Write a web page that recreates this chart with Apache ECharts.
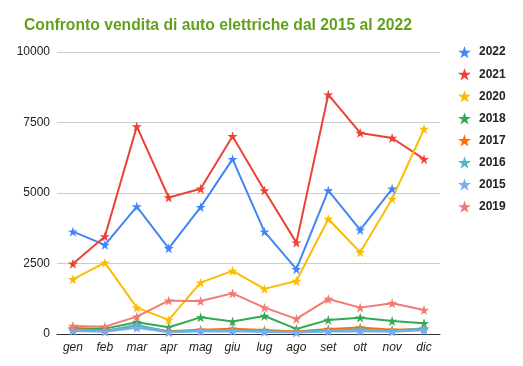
<!DOCTYPE html>
<html><head><meta charset="utf-8">
<script src="https://cdn.jsdelivr.net/npm/echarts@6/dist/echarts.min.js"></script>
<style>html,body{margin:0;padding:0;background:#fff}#c{width:523px;height:366px}</style>
</head><body><div id="c"></div>
<script>
const months = ['gen','feb','mar','apr','mag','giu','lug','ago','set','ott','nov','dic'];
const yTicks = [0, 2500, 5000, 7500, 10000];
const s2022 = [3630, 3160, 4520, 3040, 4500, 6200, 3630, 2300, 5090, 3690, 5150, null];
const s2021 = [2490, 3460, 7360, 4840, 5150, 7010, 5090, 3240, 8490, 7130, 6950, 6200];
const s2020 = [1940, 2530, 935, 500, 1820, 2240, 1600, 1880, 4080, 2900, 4790, 7270];
const s2018 = [200, 190, 420, 240, 590, 440, 640, 180, 500, 580, 460, 380];
const s2017 = [180, 120, 290, 100, 150, 190, 140, 90, 180, 230, 150, 180];
const s2016 = [150, 100, 320, 80, 120, 140, 100, 70, 130, 160, 110, 200];
const s2015 = [110, 80, 220, 60, 90, 100, 70, 50, 90, 100, 80, 130];
const s2019 = [285, 260, 615, 1180, 1170, 1440, 935, 535, 1240, 935, 1090, 850];

const seriesDefs = [
  ['2022', s2022, '#4285F4'],
  ['2021', s2021, '#EA4335'],
  ['2020', s2020, '#FBBC04'],
  ['2018', s2018, '#34A853'],
  ['2017', s2017, '#FF6D01'],
  ['2016', s2016, '#46BDC6'],
  ['2015', s2015, '#7BAAF7'],
  ['2019', s2019, '#F07B72']
];
const star = 'path://M50,0 L61.8,36.2 L100,36.2 L69.1,58.8 L80.9,95.1 L50,72.7 L19.1,95.1 L30.9,58.8 L0,36.2 L38.2,36.2 Z';

const chart = echarts.init(document.getElementById('c'), null, {renderer:'canvas'});
chart.setOption({
  animation: false,
  textStyle: {fontFamily: 'Arial, "Liberation Sans", sans-serif'},
  title: {
    text: 'Confronto vendita di auto elettriche dal 2015 al 2022',
    left: 19, top: 13,
    textStyle: {color: '#62a11b', fontSize: 15.7, fontWeight: 'bold', fontFamily: 'Arial, "Liberation Sans", sans-serif'}
  },
  legend: {
    orient: 'vertical', left: 453, top: 41,
    itemGap: 9.7, itemWidth: 13, itemHeight: 13,
    icon: star,
    textStyle: {color: '#222', fontSize: 12, fontWeight: 'bold', padding: [0,0,0,3]},
    data: seriesDefs.map(d => d[0])
  },
  grid: {left: 57, right: 83, top: 52, bottom: 32, containLabel: false},
  xAxis: {
    type: 'category', data: months, boundaryGap: true,
    axisLine: {lineStyle: {color: '#333', width: 1}},
    axisTick: {show: false},
    axisLabel: {color: '#222', fontStyle: 'italic', fontSize: 12, margin: 8}
  },
  yAxis: {
    type: 'value', min: 0, max: 10000, interval: 2500,
    axisLabel: {color: '#222', fontSize: 12, margin: 7,
      formatter: v => yTicks.includes(v) ? String(v) : ''},
    splitLine: {lineStyle: {color: '#ccc'}},
    axisLine: {show: false}, axisTick: {show: false}
  },
  series: seriesDefs.map(([name, data, color]) => ({
    name, type: 'line', data, color,
    symbol: star,
    symbolSize: 10, showSymbol: true,
    lineStyle: {width: 2, color},
    itemStyle: {color},
    connectNulls: false
  }))
});
</script></body></html>
